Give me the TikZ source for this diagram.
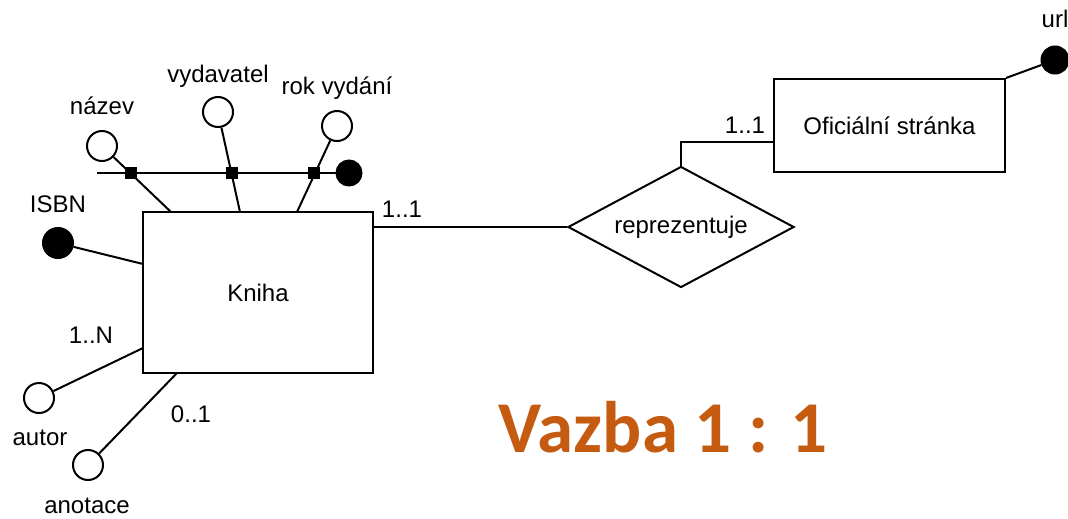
\documentclass[tikz,border=0pt]{standalone}
\usepackage{fontspec}
\setmainfont{Liberation Sans}
\newfontfamily\titlefont{Carlito}
\usetikzlibrary{shapes.geometric}
\definecolor{vazbaorange}{RGB}{197,90,17}

\begin{document}
\begin{tikzpicture}[x=1pt, y=-1pt, line width=2pt,
  every node/.style={font=\fontsize{24}{28}\selectfont},
  entity/.style={draw, rectangle, inner sep=0pt},
  relation/.style={draw, diamond, aspect=2, inner sep=0pt, minimum width=226pt, minimum height=121pt},
  attr/.style={draw, circle, fill=white, minimum size=30pt, inner sep=0pt},
  keyattr/.style={draw, circle, fill=black, minimum size=30pt, inner sep=0pt},
  joint/.style={draw, rectangle, fill=black, minimum size=10pt, inner sep=0pt},
  lbl/.style={anchor=base, inner sep=0pt}]
\useasboundingbox (0,0) rectangle (1068,519);

% Entities and the relation
\node[entity, minimum width=230pt, minimum height=161pt] (kniha) at (258,292.5) {Kniha};
\node[entity, minimum width=231pt, minimum height=93pt] (stranka) at (889.5,125.5) {Oficiální stránka};
\node[relation] (reprezentuje) at (681,227) {reprezentuje};

% Attributes
\node[attr] (nazev) at (102,146) {};
\node[attr] (vydavatel) at (218,112) {};
\node[attr] (rokvydani) at (337,126) {};
\node[keyattr] (isbn) at (58,243) {};
\node[attr] (autor) at (39,398) {};
\node[attr] (anotace) at (88,465) {};
\node[keyattr, minimum size=25pt] (klic) at (349,173) {};
\node[keyattr, minimum size=27pt] (url) at (1055,60) {};

% Points where the lines meet the boxes
\coordinate (kn1) at (171,212);
\coordinate (kn2) at (240,212);
\coordinate (kn3) at (297,212);
\coordinate (kisbn) at (143,264);
\coordinate (kautor) at (143,348);
\coordinate (kanot) at (177,373);
\coordinate (hstart) at (97,173);
\coordinate (sw) at (774,142);

% Connectors
\draw (nazev) -- (kn1);
\draw (vydavatel) -- (kn2);
\draw (rokvydani) -- (kn3);
\draw (hstart) -- (klic);
\draw (isbn) -- (kisbn);
\draw (autor) -- (kautor);
\draw (anotace) -- (kanot);
\draw (reprezentuje.west) -- (kniha.east |- reprezentuje.west);
\draw (reprezentuje.north) |- (sw);
\draw (stranka.north east) -- (url);

% Joints of the composite key
\node[joint] (j1) at (131,173) {};
\node[joint] (j2) at (232,173) {};
\node[joint] (j3) at (314,173) {};

% Labels
\node[lbl] (lnazev) at (102,114) {název};
\node[lbl] (lvydavatel) at (218,82) {vydavatel};
\node[lbl] (lrok) at (337,95) {rok vydání};
\node[lbl] (lisbn) at (58,212) {ISBN};
\node[lbl] (lautor) at (40,445) {autor};
\node[lbl] (lanot) at (87,513) {anotace};
\node[lbl] (k1n) at (91,343) {1..N};
\node[lbl] (k01) at (191,422) {0..1};
\node[lbl] (k11a) at (402,217) {1..1};
\node[lbl] (k11b) at (745,133) {1..1};
\node[lbl] (lurl) at (1055,28) {url};

\node[anchor=base, inner sep=0pt, font=\titlefont\bfseries\fontsize{73}{78}\selectfont, text=vazbaorange] (nadpis) at (663,452) {Vazba 1 : 1};
\end{tikzpicture}
\end{document}
